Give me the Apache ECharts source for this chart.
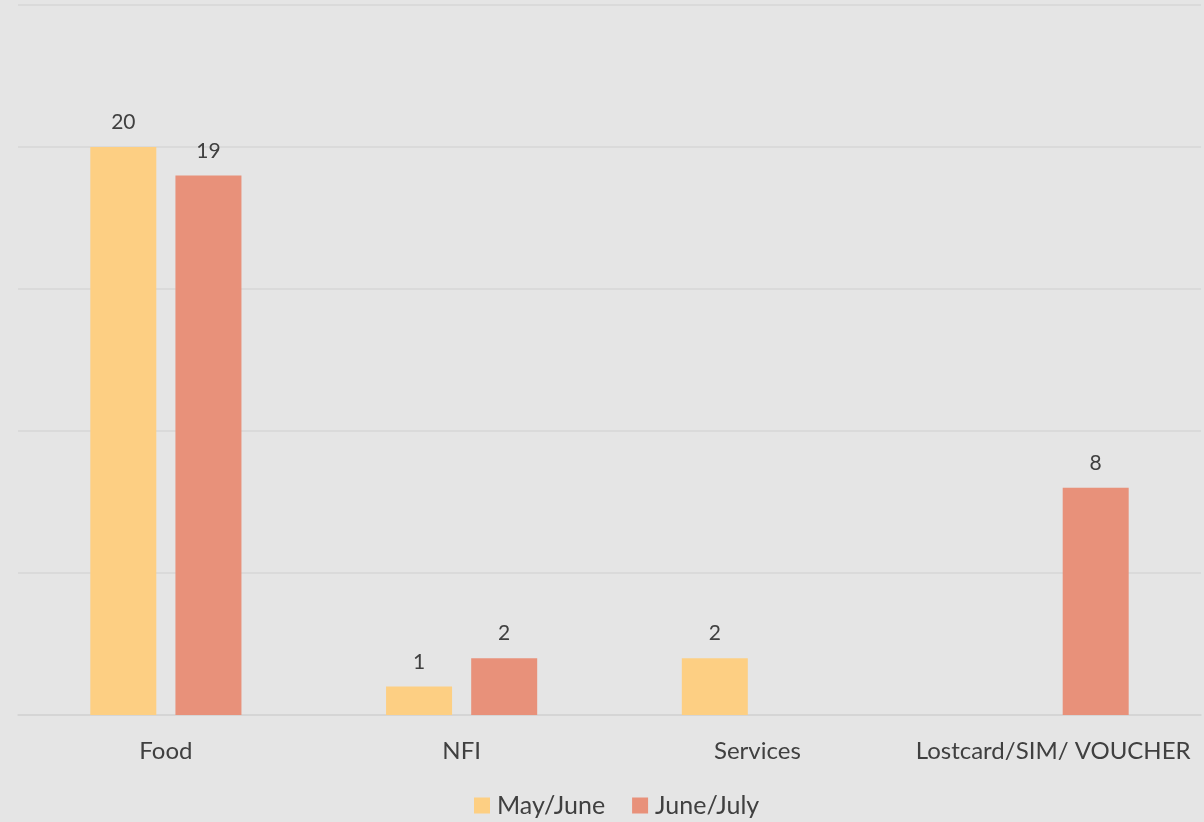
<!DOCTYPE html>
<html>
<head>
<meta charset="utf-8">
<script src="https://cdn.jsdelivr.net/npm/echarts@6/dist/echarts.min.js"></script>
<style>
  html, body { margin: 0; padding: 0; background: #e5e5e5; }
  #chart { width: 1204px; height: 822px; }
</style>
</head>
<body>
<div id="chart"></div>
<script>
// Request counts by category for two reporting periods
const categories = ['Food', 'NFI', 'Services', 'Lostcard/SIM/ VOUCHER'];
const seriesNames = ['May/June', 'June/July'];
const mayJune = [20, 1, 2, null];
const juneJuly = [19, 2, null, 8];
const colors = ['#fdcf83', '#e8917a'];

const FONT = 'Lato, "Open Sans", sans-serif';
const textColor = '#404040';

const chart = echarts.init(document.getElementById('chart'), null, { renderer: 'canvas' });

function barSeries(name, data, color) {
  return {
    name: name,
    type: 'bar',
    data: data,
    barWidth: 66,
    barGap: '29%',
    itemStyle: { color: color },
    label: {
      show: true,
      position: 'top',
      distance: 14,
      color: textColor,
      fontFamily: FONT,
      fontSize: 21
    }
  };
}

chart.setOption({
  backgroundColor: '#e5e5e5',
  animation: false,
  grid: { left: 18, right: 3, top: 5, bottom: 107, containLabel: false },
  legend: {
    bottom: 4,
    left: 474,
    padding: 0,
    itemWidth: 16,
    itemHeight: 16,
    itemGap: 27,
    icon: 'rect',
    textStyle: { color: textColor, fontFamily: FONT, fontSize: 25, padding: [0, 0, 0, 2] },
    data: seriesNames
  },
  xAxis: {
    type: 'category',
    data: categories,
    axisTick: { show: false },
    axisLine: { lineStyle: { color: '#d4d4d4', width: 1.5 } },
    axisLabel: { color: textColor, fontFamily: FONT, fontSize: 24, margin: 24, interval: 0 }
  },
  yAxis: {
    type: 'value',
    min: 0,
    max: 25,
    interval: 5,
    axisLabel: { show: false },
    axisLine: { show: false },
    axisTick: { show: false },
    splitLine: { lineStyle: { color: '#d6d6d6', width: 1.5 } }
  },
  series: [
    barSeries(seriesNames[0], mayJune, colors[0]),
    barSeries(seriesNames[1], juneJuly, colors[1])
  ]
});
</script>
</body>
</html>
